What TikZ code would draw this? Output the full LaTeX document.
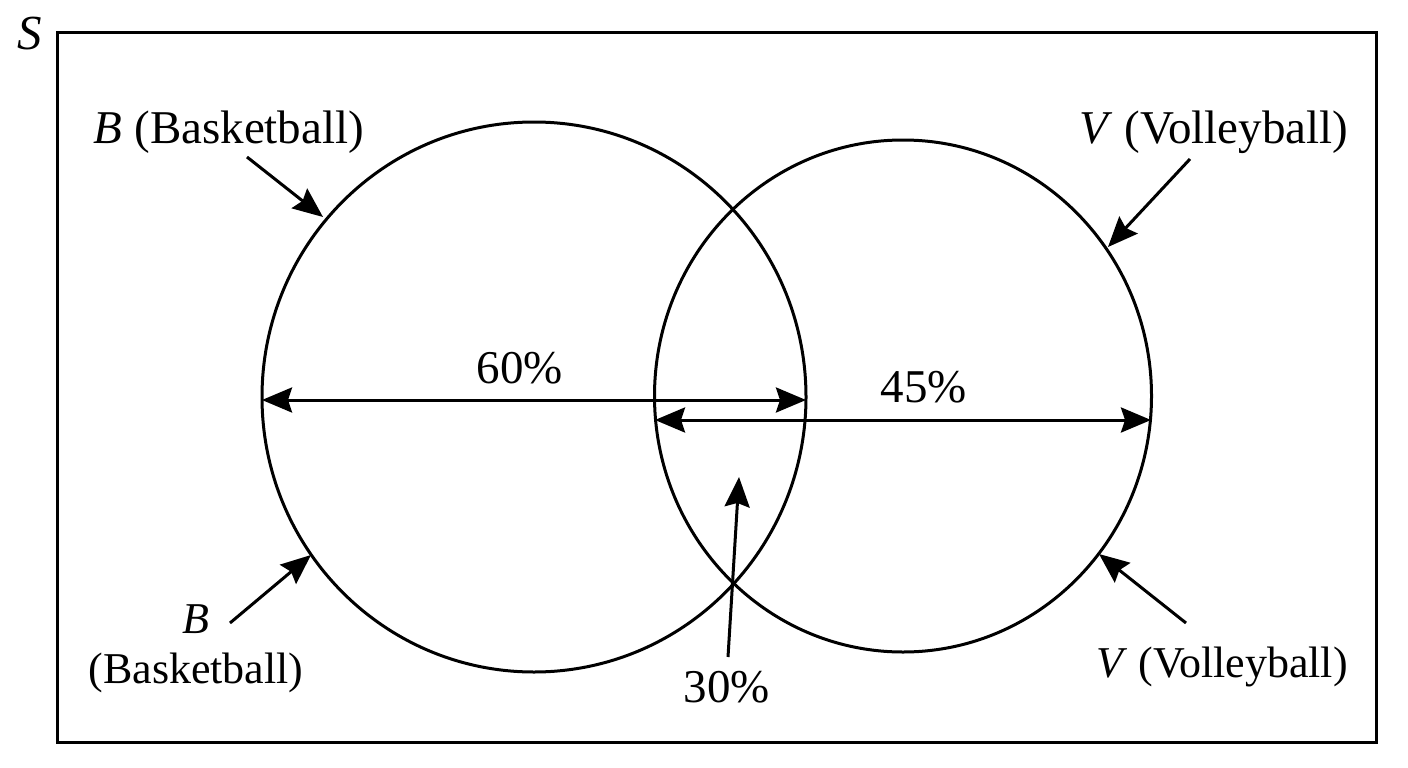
\documentclass[tikz,border=0pt]{standalone}
\usepackage{fontspec}
\setmainfont{Liberation Serif}
\usetikzlibrary{arrows.meta,shapes.geometric}
\begin{document}
\begin{tikzpicture}[x=1pt,y=-1pt,
  lab/.style={inner sep=0pt,anchor=base,font=\fontsize{47}{56}\selectfont},
  labsm/.style={inner sep=0pt,anchor=base,font=\fontsize{44}{52}\selectfont},
  ptr/.style={line width=3pt,-{Stealth[length=30pt,width=25pt,inset=4pt]}},
  dbl/.style={line width=3pt,{Stealth[length=30pt,width=25pt,inset=4pt]}-{Stealth[length=30pt,width=25pt,inset=4pt]}},
  ring/.style={draw,ellipse,line width=3pt,inner sep=0pt}]
\useasboundingbox (0,0) rectangle (1408,768);
\draw[line width=3pt] (57,33) rectangle (1376,742);
\node[lab,font=\fontsize{49}{58}\selectfont\itshape] (S) at (30,49) {S};
% circles
\node[ring,minimum width=544pt,minimum height=550pt] (B) at (534,397) {};
\node[ring,minimum width=497pt,minimum height=512pt] (V) at (903,396) {};
% labels
\node[lab] (bt) at (229,143) {\textit{B} (Basketball)};
\node[lab] (vt) at (1214,143) {\textit{V} (Volleyball)};
\node[labsm] (bl1) at (196,633) {\textit{B}};
\node[labsm] (bl2) at (196,683) {(Basketball)};
\node[labsm] (vb) at (1222,677) {\textit{V} (Volleyball)};
\node[lab] (p60) at (520,383) {60\%};
\node[lab] (p45) at (924,402) {45\%};
\node[lab] (p30) at (727,702) {30\%};
% arrow coordinates
\coordinate (a1s) at (247,157); \coordinate (a1e) at (323,217);
\coordinate (a2s) at (1190,159); \coordinate (a2e) at (1108,247);
\coordinate (a3s) at (230,623); \coordinate (a3e) at (311,555);
\coordinate (a4s) at (1186,623); \coordinate (a4e) at (1099,554);
\coordinate (a5s) at (728,657); \coordinate (a5e) at (739,477);
\coordinate (d1s) at (262,400); \coordinate (d1e) at (806,400);
\coordinate (d2s) at (655,420); \coordinate (d2e) at (1151,420);
\draw[ptr] (a1s) -- (a1e);
\draw[ptr] (a2s) -- (a2e);
\draw[ptr] (a3s) -- (a3e);
\draw[ptr] (a4s) -- (a4e);
\draw[ptr] (a5s) -- (a5e);
\draw[dbl] (d1s) -- (d1e);
\draw[dbl] (d2s) -- (d2e);
\end{tikzpicture}
\end{document}
